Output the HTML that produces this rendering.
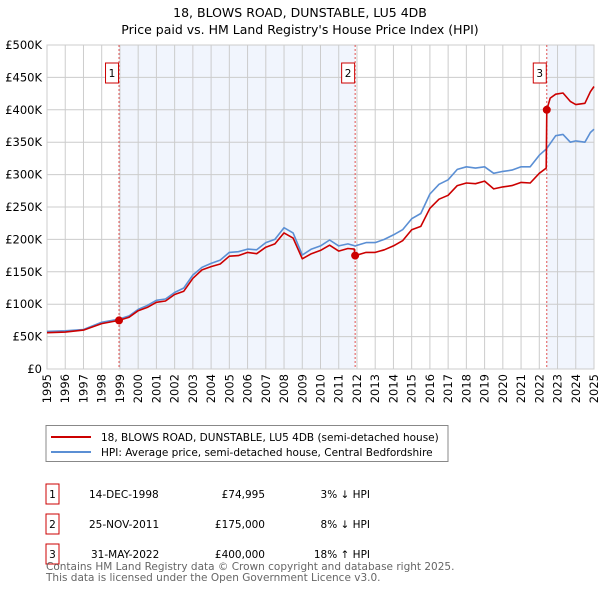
<!DOCTYPE html>
<html><head><meta charset="utf-8"><style>
body{margin:0;background:#fff;font-family:"Liberation Sans","DejaVu Sans",sans-serif;}
svg text{font-family:"DejaVu Sans","Liberation Sans",sans-serif;}
</style></head><body>
<svg id="c" width="600" height="590" viewBox="0 0 600 590" xmlns="http://www.w3.org/2000/svg">
<text x="300" y="17" text-anchor="middle" font-size="12.5" fill="#000">18, BLOWS ROAD, DUNSTABLE, LU5 4DB</text>
<text x="300" y="34" text-anchor="middle" font-size="12.5" fill="#000">Price paid vs. HM Land Registry's House Price Index (HPI)</text>
<g id="plot"></g>
<g>
<rect x="46" y="425.5" width="402" height="36" fill="#fff" stroke="#888"/>
<line x1="51" y1="437" x2="91" y2="437" stroke="#cc0000" stroke-width="2"/>
<text x="101" y="441" font-size="10.5">18, BLOWS ROAD, DUNSTABLE, LU5 4DB (semi-detached house)</text>
<line x1="51" y1="452" x2="91" y2="452" stroke="#5b8fd4" stroke-width="2"/>
<text x="101" y="456" font-size="10.5">HPI: Average price, semi-detached house, Central Bedfordshire</text>
</g>
<g font-size="10.5">
<rect x="46" y="484" width="13" height="20" fill="none" stroke="#cc0000"/><text x="52.5" y="498" text-anchor="middle">1</text>
<text x="89" y="498">14-DEC-1998</text><text x="265" y="498" text-anchor="end">£74,995</text><text x="370" y="498" text-anchor="end">3% ↓ HPI</text>
<rect x="46" y="514" width="13" height="20" fill="none" stroke="#cc0000"/><text x="52.5" y="528" text-anchor="middle">2</text>
<text x="89" y="528">25-NOV-2011</text><text x="265" y="528" text-anchor="end">£175,000</text><text x="370" y="528" text-anchor="end">8% ↓ HPI</text>
<rect x="46" y="544" width="13" height="20" fill="none" stroke="#cc0000"/><text x="52.5" y="558" text-anchor="middle">3</text>
<text x="91" y="558">31-MAY-2022</text><text x="265" y="558" text-anchor="end">£400,000</text><text x="370" y="558" text-anchor="end">18% ↑ HPI</text>
</g>
<text x="46" y="570" font-size="10.5" fill="#666">Contains HM Land Registry data © Crown copyright and database right 2025.</text>
<text x="46" y="581" font-size="10.5" fill="#666">This data is licensed under the Open Government Licence v3.0.</text>
</svg>
<script>
const hpiYears=[1995,1996,1997,1998,1998.95,1999.5,2000,2000.5,2001,2001.5,2002,2002.5,2003,2003.5,2004,2004.5,2005,2005.5,2006,2006.5,2007,2007.5,2008,2008.5,2009,2009.5,2010,2010.5,2011,2011.5,2011.9,2012.5,2013,2013.5,2014,2014.5,2015,2015.5,2016,2016.5,2017,2017.5,2018,2018.5,2019,2019.5,2020,2020.5,2021,2021.5,2022,2022.4,2022.9,2023.3,2023.7,2024,2024.5,2024.8,2025];
const hpiValues=[58,59,61,72,77,82,92,98,106,108,118,125,145,157,163,168,180,181,185,184,195,200,218,210,176,185,190,199,190,193,190,195,195,200,207,215,232,240,270,285,292,308,312,310,312,302,305,307,312,312,330,340,360,362,350,352,350,365,370];
const propYears=[1995,1996,1997,1998,1998.95,1999.5,2000,2000.5,2001,2001.5,2002,2002.5,2003,2003.5,2004,2004.5,2005,2005.5,2006,2006.5,2007,2007.5,2008,2008.5,2009,2009.5,2010,2010.5,2011,2011.5,2011.85,2011.9,2012.5,2013,2013.5,2014,2014.5,2015,2015.5,2016,2016.5,2017,2017.5,2018,2018.5,2019,2019.5,2020,2020.5,2021,2021.5,2022,2022.38,2022.41,2022.6,2022.9,2023.3,2023.7,2024,2024.5,2024.8,2025];
const propValues=[56,57,60,70,75,80,90,95,103,105,115,120,140,153,158,162,174,175,180,178,188,193,210,202,170,178,183,191,182,186,185,175,180,180,184,190,198,215,220,248,262,268,283,287,286,290,278,281,283,288,287,302,310,400,418,424,426,413,408,410,428,436];
const saleYears=[1998.95,2011.9,2022.41];
const saleValues=[74.995,175,400];
const saleLabels=["1","2","3"];
const yTicks=[0,50,100,150,200,250,300,350,400,450,500];
const yTickLabels=["£0","£50K","£100K","£150K","£200K","£250K","£300K","£350K","£400K","£450K","£500K"];
const xTicks=[1995,1996,1997,1998,1999,2000,2001,2002,2003,2004,2005,2006,2007,2008,2009,2010,2011,2012,2013,2014,2015,2016,2017,2018,2019,2020,2021,2022,2023,2024,2025];

const X0=47,X1=594,Y0=369,Y1=45;
const xs=v=>X0+(v-1995)/30*(X1-X0);
const ys=v=>Y0-v/500*(Y0-Y1);
const NS="http://www.w3.org/2000/svg";
const g=document.getElementById('plot');
function mk(t,a,p){const e=document.createElementNS(NS,t);for(const k in a)e.setAttribute(k,a[k]);(p||g).appendChild(e);return e;}
mk('rect',{x:X0,y:Y1,width:X1-X0,height:Y0-Y1,fill:'#fff'});
const sh1=mk('rect',{x:xs(saleYears[0]),y:Y1,width:xs(saleYears[1])-xs(saleYears[0]),height:Y0-Y1,fill:'#eef3fc',opacity:0.8});


const sh2=mk('rect',{x:xs(saleYears[2]),y:Y1,width:X1-xs(saleYears[2]),height:Y0-Y1,fill:'#eef3fc',opacity:0.8});


yTicks.forEach((v,i)=>{
  const l=mk('line',{x1:X0,x2:X1,y1:ys(v),y2:ys(v),stroke:'#cccccc','stroke-width':1});
  
  
  const t=mk('text',{x:X0-5,y:ys(v)+4,'text-anchor':'end','font-size':11.5});
  
  
  t.textContent=yTickLabels[i];
});
xTicks.forEach(v=>{
  const l=mk('line',{x1:xs(v),x2:xs(v),y1:Y1,y2:Y0,stroke:'#cccccc','stroke-width':1});
  
  
  const t=mk('text',{x:0,y:0,'text-anchor':'end','font-size':11.5,transform:`translate(${xs(v)+4},${Y0+5}) rotate(-90)`});
  
  
  t.textContent=v;
});
mk('rect',{x:X0,y:Y1,width:X1-X0,height:Y0-Y1,fill:'none',stroke:'#cccccc'});
saleYears.forEach((v,i)=>{
  const l=mk('line',{x1:xs(v),x2:xs(v),y1:Y1,y2:Y0,stroke:'#e05050','stroke-width':1,'stroke-dasharray':'2,2'});
  
  
});
function path(xa,va,col,name){
  const d=xa.map((x,i)=>(i?'L':'M')+xs(x).toFixed(1)+','+ys(va[i]).toFixed(1)).join('');
  const p=mk('path',{d:d,fill:'none',stroke:col,'stroke-width':1.6,'stroke-linejoin':'round'});
  
  
}
path(hpiYears,hpiValues,'#5b8fd4','hpi-line');
path(propYears,propValues,'#cc0000','property-line');
saleYears.forEach((v,i)=>{
  const c=mk('circle',{cx:xs(v),cy:ys(saleValues[i]),r:4,fill:'#cc0000'});
  
  
  const bx=xs(v)-9-4.5;
  const r=mk('rect',{x:bx,y:63,width:13,height:20,fill:'#fff',stroke:'#cc0000'});
  
  
  const t=mk('text',{x:bx+6.5,y:77,'text-anchor':'middle','font-size':10.5});
  
  
  t.textContent=saleLabels[i];
});
</script>
</body></html>
